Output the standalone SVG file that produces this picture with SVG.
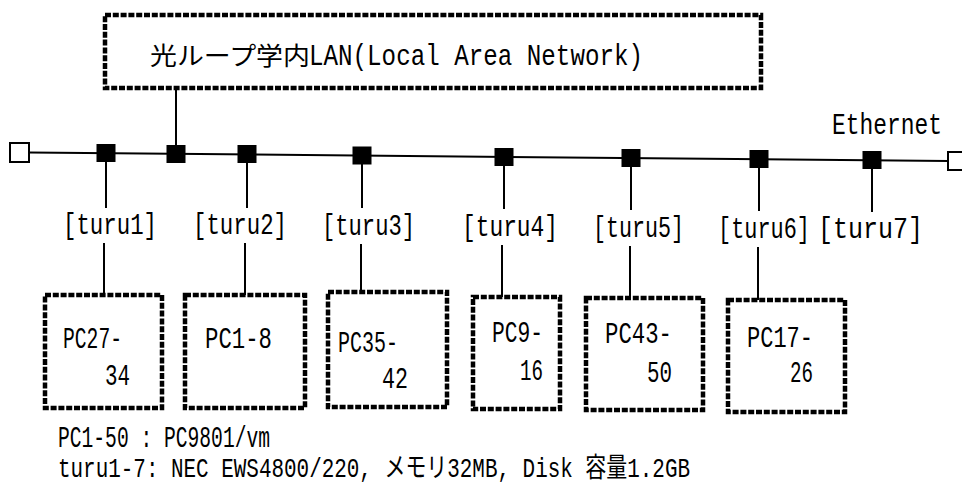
<svg xmlns="http://www.w3.org/2000/svg" width="962" height="493" viewBox="0 0 962 493">
<style>
.bg{fill:#fff}
.rope{fill:none;stroke:#000;stroke-width:4.5;stroke-dasharray:6 1.8}
.ln{stroke:#000;stroke-width:2;fill:none}
.nd{fill:#000}
.end{fill:#fff;stroke:#000;stroke-width:2}
.t{font-family:"Liberation Mono","DejaVu Sans Mono",monospace;font-size:29px;fill:#000}
.j{font-family:"Noto Sans CJK JP","Liberation Sans",sans-serif;font-size:25px;fill:#000}
</style>
<rect class="bg" x="0" y="0" width="962" height="493"/>
<g id="connectors">
  <line class="ln" x1="29" y1="152.5" x2="948" y2="161"/>
  <line class="ln" x1="176" y1="88" x2="176" y2="154"/>
  <line class="ln" x1="106" y1="153" x2="106" y2="208"/>
  <line class="ln" x1="104" y1="243" x2="104" y2="295"/>
  <line class="ln" x1="247" y1="154" x2="247" y2="208"/>
  <line class="ln" x1="245" y1="243" x2="245" y2="295"/>
  <line class="ln" x1="362" y1="155" x2="362" y2="208"/>
  <line class="ln" x1="361" y1="244" x2="361" y2="292"/>
  <line class="ln" x1="504" y1="157" x2="504" y2="209"/>
  <line class="ln" x1="502" y1="245" x2="502" y2="297"/>
  <line class="ln" x1="631" y1="158" x2="631" y2="210"/>
  <line class="ln" x1="630" y1="246" x2="630" y2="298"/>
  <line class="ln" x1="759" y1="159" x2="759" y2="211"/>
  <line class="ln" x1="758" y1="247" x2="758" y2="300"/>
  <line class="ln" x1="872" y1="160" x2="872" y2="212"/>
</g>
<g id="lan">
  <rect class="rope" x="105" y="15" width="656" height="73"/>
  <text class="j" x="150" y="65" textLength="160" lengthAdjust="spacingAndGlyphs">光ループ学内</text>
  <text class="t" x="309" y="65" font-size="31" textLength="334" lengthAdjust="spacingAndGlyphs">LAN(Local Area Network)</text>
</g>
<g id="ethernet">
  <rect class="end" x="10" y="143" width="19" height="19"/>
  <rect class="end" x="948" y="152" width="19" height="18"/>
  <text class="t" x="832" y="134" textLength="110" lengthAdjust="spacingAndGlyphs">Ethernet</text>
</g>
<g id="hub"><rect class="nd" x="166.5" y="145" width="19" height="18"/></g>
<g id="turu1"><rect class="nd" x="96.5" y="144" width="19" height="18"/><text class="t" x="63" y="234" textLength="94" lengthAdjust="spacingAndGlyphs">[turu1]</text></g>
<g id="turu2"><rect class="nd" x="237.5" y="145" width="19" height="18"/><text class="t" x="193" y="234" textLength="94" lengthAdjust="spacingAndGlyphs">[turu2]</text></g>
<g id="turu3"><rect class="nd" x="352.5" y="146.5" width="19" height="18"/><text class="t" x="322" y="235" textLength="93" lengthAdjust="spacingAndGlyphs">[turu3]</text></g>
<g id="turu4"><rect class="nd" x="494.5" y="148" width="19" height="18"/><text class="t" x="462" y="236" textLength="96" lengthAdjust="spacingAndGlyphs">[turu4]</text></g>
<g id="turu5"><rect class="nd" x="621.5" y="149" width="19" height="18"/><text class="t" x="593" y="237" textLength="91" lengthAdjust="spacingAndGlyphs">[turu5]</text></g>
<g id="turu6"><rect class="nd" x="749.5" y="150" width="19" height="18"/><text class="t" x="718" y="238" textLength="92" lengthAdjust="spacingAndGlyphs">[turu6]</text></g>
<g id="turu7"><rect class="nd" x="862.5" y="151" width="19" height="18"/><text class="t" x="818" y="238" textLength="105" lengthAdjust="spacingAndGlyphs">[turu7]</text></g>
<g id="pc27"><rect class="rope" x="45" y="295" width="117" height="113"/><text class="t" x="63" y="348" textLength="59" lengthAdjust="spacingAndGlyphs">PC27-</text><text class="t" x="105" y="385" textLength="25" lengthAdjust="spacingAndGlyphs">34</text></g>
<g id="pc1"><rect class="rope" x="185" y="295" width="120" height="113"/><text class="t" x="205" y="348" textLength="67" lengthAdjust="spacingAndGlyphs">PC1-8</text></g>
<g id="pc35"><rect class="rope" x="328" y="292" width="119" height="115"/><text class="t" x="338" y="352" textLength="60" lengthAdjust="spacingAndGlyphs">PC35-</text><text class="t" x="382" y="388" textLength="26" lengthAdjust="spacingAndGlyphs">42</text></g>
<g id="pc9"><rect class="rope" x="473" y="297" width="87" height="112"/><text class="t" x="492" y="342" textLength="51" lengthAdjust="spacingAndGlyphs">PC9-</text><text class="t" x="520" y="380" textLength="23" lengthAdjust="spacingAndGlyphs">16</text></g>
<g id="pc43"><rect class="rope" x="586" y="298" width="117" height="112"/><text class="t" x="605" y="343" textLength="67" lengthAdjust="spacingAndGlyphs">PC43-</text><text class="t" x="647" y="382" textLength="25" lengthAdjust="spacingAndGlyphs">50</text></g>
<g id="pc17"><rect class="rope" x="728" y="300" width="117" height="112"/><text class="t" x="747" y="347" textLength="66" lengthAdjust="spacingAndGlyphs">PC17-</text><text class="t" x="790" y="382" textLength="23" lengthAdjust="spacingAndGlyphs">26</text></g>
<g id="notes">
  <text class="t" x="58" y="447" font-size="27" textLength="212" lengthAdjust="spacingAndGlyphs">PC1-50 : PC9801/vm</text>
  <text x="58" y="477" style="font-family:'Liberation Mono','Noto Sans CJK JP',monospace;font-size:27px" textLength="632" lengthAdjust="spacingAndGlyphs">turu1-7: NEC EWS4800/220, メモリ32MB, Disk 容量1.2GB</text>
</g>
</svg>
